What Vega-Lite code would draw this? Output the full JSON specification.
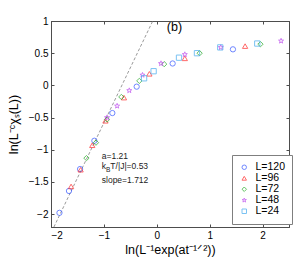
{
  "$schema": "https://vega.github.io/schema/vega-lite/v6.json",
  "width": 238,
  "height": 206,
  "autosize": {"type": "none"},
  "padding": {"left": 51, "top": 21, "right": 5, "bottom": 32},
  "background": "white",
  "config": {
    "font": "Liberation Sans",
    "view": {"stroke": "#4d4d4d", "strokeWidth": 1},
    "axis": {
      "grid": false,
      "domainColor": "#4d4d4d",
      "tickColor": "#4d4d4d",
      "labelColor": "#000000",
      "titleColor": "#000000",
      "labelFont": "Liberation Sans",
      "titleFont": "Liberation Sans",
      "titleFontWeight": "normal",
      "labelFontSize": 10,
      "titleFontSize": 12.5,
      "tickSize": -3,
      "labelPadding": 6
    }
  },
  "datasets": {
    "fit": [
      {"x": -1.945, "y": -2.2},
      {"x": -0.076, "y": 1.0}
    ],
    "pts": [
      {"L": "L=120", "x": -1.84, "y": -1.98},
      {"L": "L=120", "x": -1.66, "y": -1.64},
      {"L": "L=120", "x": -1.45, "y": -1.30},
      {"L": "L=120", "x": -1.18, "y": -0.86},
      {"L": "L=120", "x": -0.84, "y": -0.43},
      {"L": "L=120", "x": -0.38, "y": -0.02},
      {"L": "L=120", "x": 0.30, "y": 0.34},
      {"L": "L=120", "x": 1.44, "y": 0.56},
      {"L": "L=96", "x": -1.62, "y": -1.57},
      {"L": "L=96", "x": -1.44, "y": -1.31},
      {"L": "L=96", "x": -1.22, "y": -0.93},
      {"L": "L=96", "x": -0.97, "y": -0.55},
      {"L": "L=96", "x": -0.62, "y": -0.19},
      {"L": "L=96", "x": -0.14, "y": 0.18},
      {"L": "L=96", "x": 0.53, "y": 0.42},
      {"L": "L=96", "x": 1.67, "y": 0.61},
      {"L": "L=72", "x": -1.33, "y": -1.13},
      {"L": "L=72", "x": -1.15, "y": -0.89},
      {"L": "L=72", "x": -0.94, "y": -0.53},
      {"L": "L=72", "x": -0.67, "y": -0.18},
      {"L": "L=72", "x": -0.33, "y": 0.07},
      {"L": "L=72", "x": 0.14, "y": 0.33},
      {"L": "L=72", "x": 0.81, "y": 0.50},
      {"L": "L=72", "x": 1.96, "y": 0.64},
      {"L": "L=48", "x": -0.94, "y": -0.50},
      {"L": "L=48", "x": -0.75, "y": -0.32},
      {"L": "L=48", "x": -0.52, "y": -0.08},
      {"L": "L=48", "x": -0.27, "y": 0.16},
      {"L": "L=48", "x": 0.08, "y": 0.34},
      {"L": "L=48", "x": 0.53, "y": 0.48},
      {"L": "L=48", "x": 1.21, "y": 0.59},
      {"L": "L=48", "x": 2.35, "y": 0.69},
      {"L": "L=24", "x": -0.24, "y": 0.11},
      {"L": "L=24", "x": -0.06, "y": 0.22},
      {"L": "L=24", "x": 0.42, "y": 0.43},
      {"L": "L=24", "x": 0.76, "y": 0.50},
      {"L": "L=24", "x": 1.20, "y": 0.59},
      {"L": "L=24", "x": 1.90, "y": 0.65}
    ],
    "ann": [
      {"x": -1.04, "y": -1.14, "t": "a=1.21"},
      {"x": -1.04, "y": -1.52, "t": "slope=1.712"}
    ],
    "kb": [
      {"x": -1.04, "y": -1.30, "k": "k", "b": "B", "r": "T/|J|=0.53"}
    ],
    "lab": [
      {"x": 0.19, "y": 0.84, "t": "(b)"}
    ]
  },
  "layer": [
    {
      "data": {"name": "fit"},
      "mark": {"type": "line", "color": "#808080", "strokeWidth": 0.8, "strokeDash": [3, 2], "clip": true},
      "encoding": {
        "x": {
          "field": "x", "type": "quantitative",
          "scale": {"domain": [-2, 2.5], "nice": false, "zero": false},
          "axis": {
            "orient": "bottom",
            "values": [-2, -1, 0, 1, 2],
            "labelExpr": "datum.value < 0 ? '−' + format(-datum.value, '') : format(datum.value, '')",
            "title": "ln(L⁻¹exp(at⁻¹ᐟ²))",
            "titlePadding": 3
          }
        },
        "y": {
          "field": "y", "type": "quantitative",
          "scale": {"domain": [-2.2, 1], "nice": false, "zero": false},
          "axis": {
            "orient": "left",
            "values": [-2, -1.5, -1, -0.5, 0, 0.5, 1],
            "labelExpr": "datum.value < 0 ? '−' + format(-datum.value, '') : format(datum.value, '')",
            "title": "ln(L⁻ᶜχₛ(L))",
            "titlePadding": 8
          }
        }
      }
    },
    {
      "data": {"name": "pts"},
      "mark": {"type": "point", "filled": false, "strokeWidth": 1, "size": 28},
      "encoding": {
        "x": {
          "field": "x", "type": "quantitative",
          "axis": {"orient": "top", "labels": false, "title": null, "values": [-2, -1, 0, 1, 2]}
        },
        "y": {
          "field": "y", "type": "quantitative",
          "axis": {"orient": "right", "labels": false, "title": null, "values": [-2, -1.5, -1, -0.5, 0, 0.5, 1]}
        },
        "color": {
          "field": "L", "type": "nominal",
          "scale": {
            "domain": ["L=120", "L=96", "L=72", "L=48", "L=24"],
            "range": ["#3355ff", "#ff2a2a", "#22aa22", "#bb44ee", "#44aaee"]
          },
          "legend": {
            "title": null, "orient": "none", "legendX": 181, "legendY": 134,
            "strokeColor": "#7f7f7f", "fillColor": "white", "padding": 7,
            "labelFontSize": 10.5, "labelOffset": 6, "rowPadding": 0,
            "symbolSize": 20, "symbolStrokeWidth": 1, "labelColor": "#000000"
          }
        },
        "shape": {
          "field": "L", "type": "nominal",
          "scale": {
            "domain": ["L=120", "L=96", "L=72", "L=48", "L=24"],
            "range": ["circle", "triangle-up", "diamond", "M0,-1L0.235,-0.324L0.951,-0.309L0.380,0.124L0.588,0.809L0,0.4L-0.588,0.809L-0.380,0.124L-0.951,-0.309L-0.235,-0.324Z", "square"]
          },
          "legend": {
            "title": null, "orient": "none", "legendX": 181, "legendY": 134,
            "strokeColor": "#7f7f7f", "fillColor": "white", "padding": 7,
            "labelFontSize": 10.5, "labelOffset": 6, "rowPadding": 0,
            "symbolSize": 20, "symbolStrokeWidth": 1, "labelColor": "#000000"
          }
        }
      }
    },
    {
      "data": {"name": "ann"},
      "mark": {"type": "text", "align": "left", "baseline": "alphabetic", "fontSize": 8.5, "fill": "#222222"},
      "encoding": {
        "x": {"field": "x", "type": "quantitative", "axis": null},
        "y": {"field": "y", "type": "quantitative", "axis": null},
        "text": {"field": "t"}
      }
    },
    {
      "data": {"name": "kb"},
      "mark": {"type": "text", "align": "left", "baseline": "alphabetic", "fontSize": 8.5, "fill": "#222222"},
      "encoding": {
        "x": {"field": "x", "type": "quantitative", "axis": null},
        "y": {"field": "y", "type": "quantitative", "axis": null},
        "text": {"field": "k"}
      }
    },
    {
      "data": {"name": "kb"},
      "mark": {"type": "text", "align": "left", "baseline": "alphabetic", "fontSize": 6.5, "dx": 4.3, "dy": 2.5, "fill": "#222222"},
      "encoding": {
        "x": {"field": "x", "type": "quantitative", "axis": null},
        "y": {"field": "y", "type": "quantitative", "axis": null},
        "text": {"field": "b"}
      }
    },
    {
      "data": {"name": "kb"},
      "mark": {"type": "text", "align": "left", "baseline": "alphabetic", "fontSize": 8.5, "dx": 8.6, "fill": "#222222"},
      "encoding": {
        "x": {"field": "x", "type": "quantitative", "axis": null},
        "y": {"field": "y", "type": "quantitative", "axis": null},
        "text": {"field": "r"}
      }
    },
    {
      "data": {"name": "lab"},
      "mark": {"type": "text", "align": "left", "baseline": "alphabetic", "fontSize": 12.5, "fill": "#000000"},
      "encoding": {
        "x": {"field": "x", "type": "quantitative", "axis": null},
        "y": {"field": "y", "type": "quantitative", "axis": null},
        "text": {"field": "t"}
      }
    }
  ],
  "resolve": {"axis": {"x": "independent", "y": "independent"}}
}
